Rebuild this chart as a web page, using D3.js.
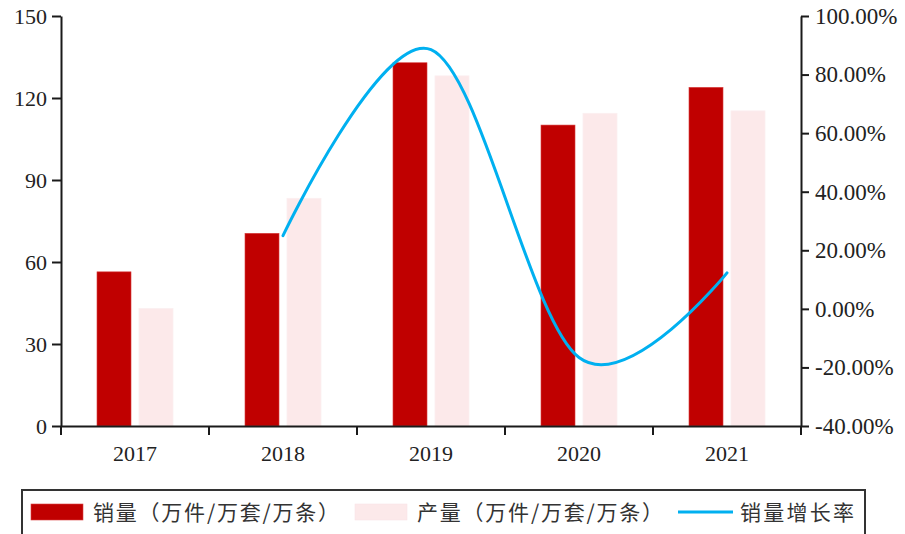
<!DOCTYPE html>
<html>
<head>
<meta charset="utf-8">
<script src="https://cdn.jsdelivr.net/npm/d3@7"></script>
<style>
  html, body { margin: 0; padding: 0; background: #fff; }
  svg { display: block; }
</style>
</head>
<body>
<svg id="chart" width="905" height="534"></svg>
<script>
// Annual figures, 2017–2021
const years = ["2017", "2018", "2019", "2020", "2021"];
const sales = [56.4, 70.5, 132.9, 110.1, 123.9];       // 销量（万件/万套/万条）
const output = [43.0, 83.3, 128.1, 114.4, 115.3];      // 产量（万件/万套/万条）
const salesGrowth = [null, 25.0, 88.5, -16.6, 12.3];  // 销量增长率 (%)

const leftTicks = [0, 30, 60, 90, 120, 150];
const rightTicks = [-40, -20, 0, 20, 40, 60, 80, 100];

const legendItems = [
  { label: "销量（万件/万套/万条）", type: "rect", color: "#C00000", edge: "#D94040", x: 31, textX: 93, textLen: 246 },
  { label: "产量（万件/万套/万条）", type: "rect", color: "#FCE9EA", edge: "#F8E4E6", x: 355, textX: 417, textLen: 246 },
  { label: "销量增长率", type: "line", color: "#00B0F0", x: 678, textX: 740, textLen: 114 }
];

const svg = d3.select("#chart");
const plotLeft = 61, plotRight = 801, plotTop = 16, plotBottom = 426;
const serif = "'Liberation Serif', 'Times New Roman', serif";
const cjk = "'Noto Sans CJK SC', 'Noto Sans', sans-serif";

const x = d3.scaleBand().domain(years).range([plotLeft, plotRight]).padding(0);
const inner = d3.scaleBand().domain(["sales", "output"])
  .range([0, x.bandwidth()]).paddingInner(0.19).paddingOuter(0.857);
const yL = d3.scaleLinear().domain([0, 150]).range([plotBottom, plotTop]);
const yR = d3.scaleLinear().domain([-40, 100]).range([plotBottom, plotTop]);

// Bars
const groups = svg.append("g").selectAll("g")
  .data(years).join("g")
  .attr("transform", d => `translate(${x(d)},0)`);

groups.append("rect")
  .attr("x", inner("sales"))
  .attr("width", inner.bandwidth())
  .attr("y", (d, i) => yL(sales[i]))
  .attr("height", (d, i) => yL(0) - yL(sales[i]))
  .attr("fill", "#C00000")
  .attr("stroke", "#D94040").attr("stroke-width", 0.6);

groups.append("rect")
  .attr("x", inner("output"))
  .attr("width", inner.bandwidth())
  .attr("y", (d, i) => yL(output[i]))
  .attr("height", (d, i) => yL(0) - yL(output[i]))
  .attr("fill", "#FCE9EA")
  .attr("stroke", "#FBEFF0").attr("stroke-width", 0.8);

// Growth line (smoothed)
const linePts = years.map((d, i) => [x(d) + x.bandwidth() / 2, salesGrowth[i]])
  .filter(p => p[1] !== null);
svg.append("path")
  .datum(linePts)
  .attr("fill", "none")
  .attr("stroke", "#00B0F0")
  .attr("stroke-width", 3)
  .attr("stroke-linecap", "round")
  .attr("d", d3.line().x(p => p[0]).y(p => yR(p[1])).curve(d3.curveCatmullRom.alpha(0)));

// Axes
const axisColor = "#1a1a1a";
const pct = d => d.toFixed(2) + "%";   // plain hyphen for negatives
const gL = svg.append("g")
  .attr("transform", `translate(${plotLeft},0)`)
  .call(d3.axisLeft(yL).tickValues(leftTicks).tickSize(9).tickPadding(5).tickSizeOuter(0));
const gR = svg.append("g")
  .attr("transform", `translate(${plotRight},0)`)
  .call(d3.axisRight(yR).tickValues(rightTicks).tickSize(8).tickPadding(6).tickSizeOuter(0)
    .tickFormat(pct));
const gX = svg.append("g")
  .attr("transform", `translate(0,${plotBottom})`)
  .call(d3.axisBottom(x).tickSize(0).tickPadding(19).tickSizeOuter(0));

// Category dividers on the x axis
gX.selectAll(".divider")
  .data(years.map(d => x(d)).concat([plotRight]))
  .join("line")
  .attr("class", "divider")
  .attr("x1", d => d).attr("x2", d => d)
  .attr("y1", 0).attr("y2", 9)
  .attr("stroke", axisColor).attr("stroke-width", 2);

[gL, gR, gX].forEach(g => {
  g.select(".domain").attr("stroke", axisColor).attr("stroke-width", 2);
  g.selectAll(".tick line").attr("stroke", axisColor).attr("stroke-width", 2);
  g.selectAll("text").attr("font-family", serif).attr("font-size", 22).attr("fill", "#222");
});
gR.selectAll("text").attr("font-size", 23);
// Vertical axes run slightly past the baseline
[plotLeft, plotRight].forEach(px => svg.append("line")
  .attr("x1", px).attr("x2", px).attr("y1", plotBottom).attr("y2", plotBottom + 9)
  .attr("stroke", axisColor).attr("stroke-width", 2));

// Legend
const lg = svg.append("g");
lg.append("rect")
  .attr("x", 22).attr("y", 490).attr("width", 843).attr("height", 60)
  .attr("fill", "#fff").attr("stroke", "#333").attr("stroke-width", 2);

legendItems.forEach(it => {
  if (it.type === "rect") {
    lg.append("rect").attr("x", it.x).attr("y", 504).attr("width", 52).attr("height", 16)
      .attr("fill", it.color).attr("stroke", it.edge).attr("stroke-width", 0.6);
  } else {
    lg.append("line").attr("x1", it.x).attr("x2", it.x + 55).attr("y1", 512).attr("y2", 512)
      .attr("stroke", it.color).attr("stroke-width", 3);
  }
  lg.append("text")
    .attr("x", it.textX).attr("y", 520)
    .attr("font-family", cjk).attr("font-size", 21).attr("fill", "#333")
    .attr("textLength", it.textLen).attr("lengthAdjust", "spacing")
    .text(it.label);
});
</script>
</body>
</html>
